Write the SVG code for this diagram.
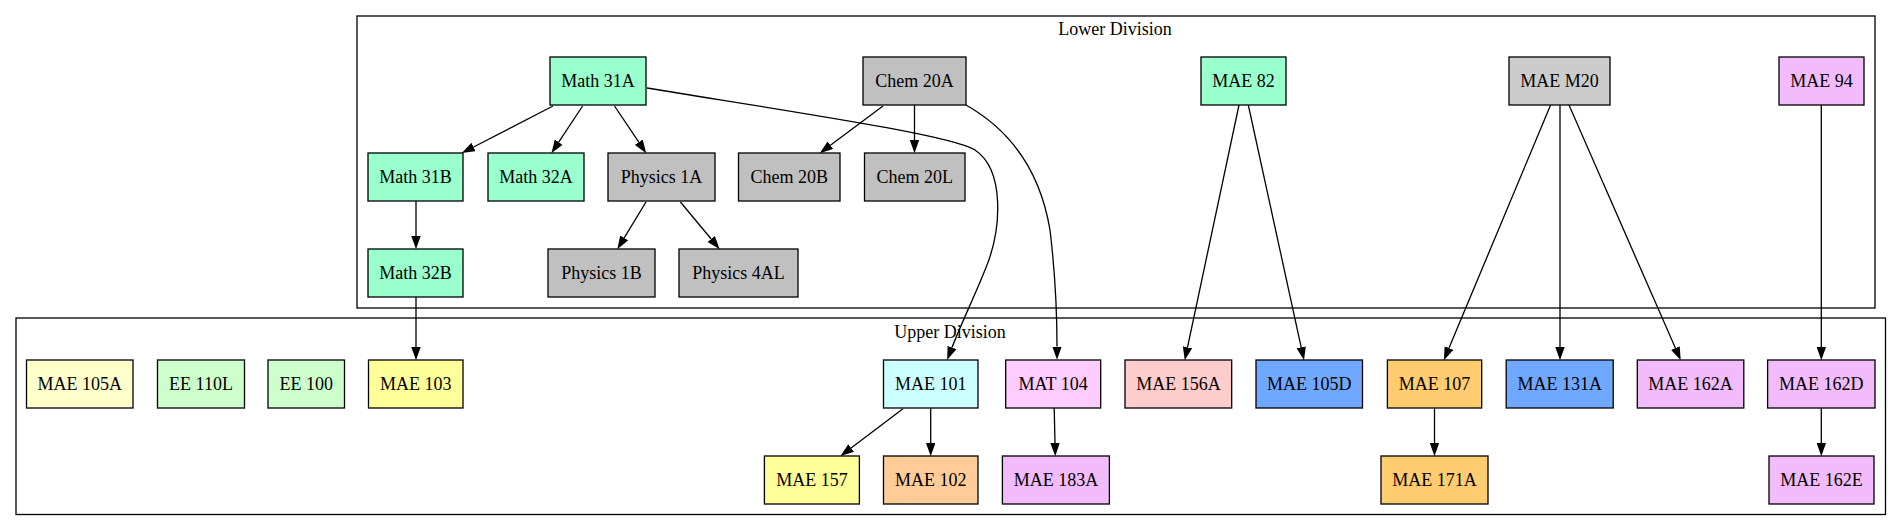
<svg xmlns="http://www.w3.org/2000/svg" width="1901" height="531" viewBox="0 0 1901 531" font-family="'Liberation Serif', 'Times New Roman', Times, 'DejaVu Serif', serif">
<style>
.cl{fill:none;stroke:#000;stroke-width:1.3}
.n rect{stroke:#000;stroke-width:1.3}
text{font-family:'Liberation Serif','Times New Roman',Times,'DejaVu Serif',serif;font-size:18px;fill:#000;text-anchor:middle}
.e path{fill:none;stroke:#000;stroke-width:1.3;marker-end:url(#arr)}
</style>
<defs>
<marker id="arr" markerWidth="14" markerHeight="10" refX="0" refY="4.7" orient="auto" markerUnits="userSpaceOnUse">
<path d="M0,0 L13.3,4.7 L0,9.4 z" fill="#000"/>
</marker>
</defs>
<rect width="1901" height="531" fill="#fff"/>
<g id="cluster_lower">
<rect class="cl" x="357" y="16" width="1518" height="292"/>
<text x="1115" y="35">Lower Division</text>
</g>
<g id="cluster_upper">
<rect class="cl" x="16" y="318" width="1869.5" height="196.5"/>
<text x="950" y="338">Upper Division</text>
</g>
<g id="edges" class="e">
<path d="M553,106 L473.6,147"/>
<path d="M582.6,106 L558.7,142.2"/>
<path d="M614.5,106 L638.8,142.2"/>
<path d="M883,106 L830.4,145.2"/>
<path d="M914.5,105 L914.5,140"/>
<path d="M416,201 L416,236"/>
<path d="M646,202 L624.2,237.9"/>
<path d="M680.4,202 L711.2,239"/>
<path d="M416,297 L416,347"/>
<path d="M1239,105 L1187.5,347.3"/>
<path d="M1248.3,105 L1301.2,347.3"/>
<path d="M1550.6,105 L1449,348"/>
<path d="M1560,105 L1560,347"/>
<path d="M1569,105 L1675.4,348.1"/>
<path d="M1821.3,105 L1821.3,347"/>
<path d="M903,408.7 L851.1,447.9"/>
<path d="M930.7,408 L930.7,443"/>
<path d="M1054.2,408 L1055,443"/>
<path d="M1434.5,408 L1434.5,443"/>
<path d="M1821.3,408 L1821.3,443"/>
<path d="M647,88 C800,113 950,135 975,150 C1005,170 1002,230 985,270 C975,295 962,322 952,347.5"/>
<path d="M966,105 C1010,130 1040,170 1050,230 C1056,280 1057,320 1057,346.5"/>
</g>
<g id="n_math31a" class="n"><rect x="550" y="57" width="96" height="48" fill="#99ffcc"/><text x="598" y="87">Math 31A</text></g>
<g id="n_chem20a" class="n"><rect x="863" y="57" width="103" height="48" fill="#c0c0c0"/><text x="914.5" y="87">Chem 20A</text></g>
<g id="n_mae82" class="n"><rect x="1201" y="57" width="85" height="48" fill="#99ffcc"/><text x="1243.5" y="87">MAE 82</text></g>
<g id="n_maem20" class="n"><rect x="1509" y="57" width="101" height="48" fill="#cccccc"/><text x="1559.5" y="87">MAE M20</text></g>
<g id="n_mae94" class="n"><rect x="1779" y="57" width="85" height="48" fill="#f1bbfc"/><text x="1821.5" y="87">MAE 94</text></g>
<g id="n_math31b" class="n"><rect x="368" y="153" width="95" height="48" fill="#99ffcc"/><text x="415.5" y="183">Math 31B</text></g>
<g id="n_math32a" class="n"><rect x="488" y="153" width="96" height="48" fill="#99ffcc"/><text x="536" y="183">Math 32A</text></g>
<g id="n_physics1a" class="n"><rect x="608" y="153" width="107" height="48" fill="#c0c0c0"/><text x="661.5" y="183">Physics 1A</text></g>
<g id="n_chem20b" class="n"><rect x="738.5" y="153" width="101.5" height="48" fill="#c0c0c0"/><text x="789.3" y="183">Chem 20B</text></g>
<g id="n_chem20l" class="n"><rect x="864.5" y="153" width="100.5" height="48" fill="#c0c0c0"/><text x="914.8" y="183">Chem 20L</text></g>
<g id="n_math32b" class="n"><rect x="368" y="249" width="95" height="48" fill="#99ffcc"/><text x="415.5" y="279">Math 32B</text></g>
<g id="n_physics1b" class="n"><rect x="548" y="249" width="107" height="48" fill="#c0c0c0"/><text x="601.5" y="279">Physics 1B</text></g>
<g id="n_physics4al" class="n"><rect x="679" y="249" width="119" height="48" fill="#c0c0c0"/><text x="738.5" y="279">Physics 4AL</text></g>
<g id="n_mae105a" class="n"><rect x="26.5" y="360" width="106.5" height="48" fill="#ffffcc"/><text x="79.8" y="390">MAE 105A</text></g>
<g id="n_ee110l" class="n"><rect x="157.5" y="360" width="87" height="48" fill="#ccffcc"/><text x="201" y="390">EE 110L</text></g>
<g id="n_ee100" class="n"><rect x="268" y="360" width="76.5" height="48" fill="#ccffcc"/><text x="306.3" y="390">EE 100</text></g>
<g id="n_mae103" class="n"><rect x="368.5" y="360" width="94.5" height="48" fill="#ffff99"/><text x="415.8" y="390">MAE 103</text></g>
<g id="n_mae101" class="n"><rect x="883.5" y="360" width="94.5" height="48" fill="#ccffff"/><text x="930.8" y="390">MAE 101</text></g>
<g id="n_mat104" class="n"><rect x="1005.7" y="360" width="95" height="48" fill="#ffccff"/><text x="1053.2" y="390">MAT 104</text></g>
<g id="n_mae156a" class="n"><rect x="1125" y="360" width="106.7" height="48" fill="#ffcccc"/><text x="1178.4" y="390">MAE 156A</text></g>
<g id="n_mae105d" class="n"><rect x="1256" y="360" width="106.5" height="48" fill="#70a8ff"/><text x="1309.3" y="390">MAE 105D</text></g>
<g id="n_mae107" class="n"><rect x="1387.4" y="360" width="94.3" height="48" fill="#ffcc6f"/><text x="1434.5" y="390">MAE 107</text></g>
<g id="n_mae131a" class="n"><rect x="1506.2" y="360" width="107" height="48" fill="#70a8ff"/><text x="1559.7" y="390">MAE 131A</text></g>
<g id="n_mae162a" class="n"><rect x="1637.3" y="360" width="106.5" height="48" fill="#f1bbfc"/><text x="1690.5" y="390">MAE 162A</text></g>
<g id="n_mae162d" class="n"><rect x="1767.6" y="360" width="107.4" height="48" fill="#f1bbfc"/><text x="1821.3" y="390">MAE 162D</text></g>
<g id="n_mae157" class="n"><rect x="764.4" y="456" width="95" height="48" fill="#ffff99"/><text x="811.9" y="486">MAE 157</text></g>
<g id="n_mae102" class="n"><rect x="883.5" y="456" width="94.5" height="48" fill="#ffcc99"/><text x="930.8" y="486">MAE 102</text></g>
<g id="n_mae183a" class="n"><rect x="1002.4" y="456" width="107" height="48" fill="#f1bbfc"/><text x="1055.9" y="486">MAE 183A</text></g>
<g id="n_mae171a" class="n"><rect x="1381" y="456" width="107" height="48" fill="#ffcc6f"/><text x="1434.5" y="486">MAE 171A</text></g>
<g id="n_mae162e" class="n"><rect x="1769" y="456" width="105" height="48" fill="#f1bbfc"/><text x="1821.5" y="486">MAE 162E</text></g>
</svg>
